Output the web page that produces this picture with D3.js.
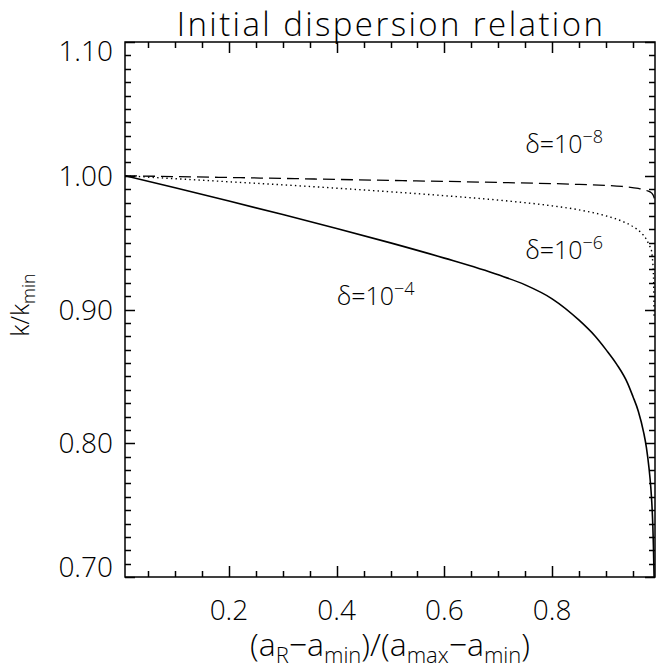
<!DOCTYPE html>
<html><head><meta charset="utf-8">
<script src="https://cdn.jsdelivr.net/npm/d3@7"></script>
<style>
body{margin:0;background:#fff}
svg text{font-family:"Open Sans","DejaVu Sans",sans-serif;font-weight:300;fill:#000}
</style></head><body>
<svg id="c" width="658" height="668"></svg>
<script>
// ---- data ----
const xSolid=[0.007,0.1,0.2,0.3,0.4,0.5,0.6,0.7,0.75,0.8,0.85,0.88,0.9,0.92,0.94,0.95,0.96,0.97,0.975,0.98,0.983,0.985,0.987,0.988,0.989,0.9893];
const ySolid=[1.000,0.991,0.9811,0.971,0.9606,0.9498,0.9384,0.9259,0.9184,0.908,0.892,0.880,0.870,0.859,0.845,0.835,0.824,0.808,0.797,0.781,0.768,0.756,0.738,0.724,0.706,0.700];
const xDotted=[0.007,0.1,0.2,0.3,0.4,0.5,0.6,0.7,0.8,0.85,0.9,0.93,0.95,0.965,0.975,0.981,0.984,0.986,0.9875,0.9885,0.989,0.9893];
const yDotted=[1.000,0.9978,0.9955,0.9932,0.9907,0.988,0.9851,0.9818,0.9775,0.9745,0.970,0.966,0.962,0.9575,0.9525,0.9475,0.945,0.939,0.931,0.920,0.906,0.893];
const xDashed=[0.007,0.3,0.5,0.7,0.85,0.93,0.96,0.975,0.985,0.989,0.991];
const yDashed=[1.000,0.998,0.9965,0.995,0.9935,0.992,0.9905,0.989,0.987,0.984,0.980];
const seriesLabels=["\u03b4=10","\u03b4=10","\u03b4=10"];
const seriesExp=["\u22124","\u22126","\u22128"];
const xMajor=[0.2,0.4,0.6,0.8];
const xTickLabels=["0.2","0.4","0.6","0.8"];
const xMinor=[0.05,0.1,0.15,0.25,0.3,0.35,0.45,0.5,0.55,0.65,0.7,0.75,0.85,0.9,0.95];
const yMajor=[0.7,0.8,0.9,1.0,1.1];
const yTickLabels=["0.70","0.80","0.90","1.00","1.10"];
const yMinor=[0.71,0.72,0.73,0.74,0.75,0.76,0.77,0.78,0.79,0.81,0.82,0.83,0.84,0.85,0.86,0.87,0.88,0.89,
              0.91,0.92,0.93,0.94,0.95,0.96,0.97,0.98,0.99,1.01,1.02,1.03,1.04,1.05,1.06,1.07,1.08,1.09];
const titleText="Initial dispersion relation";

// ---- layout ----
const L=125,R=655,T=42,B=577;
const x=d3.scaleLinear().domain([0.007,0.991]).range([L,R]);
const y=d3.scaleLinear().domain([0.70,1.10]).range([B,T]);
const svg=d3.select("#c");

svg.append("defs").append("clipPath").attr("id","pc")
  .append("rect").attr("x",L).attr("y",T).attr("width",R-L).attr("height",B-T);

// box
svg.append("rect").attr("x",L).attr("y",T).attr("width",R-L).attr("height",B-T).attr("fill","none").attr("stroke","#000").attr("stroke-width",1.5);

// ticks (inward, on all four sides)
const tg=svg.append("g");
function tick(x1,y1,x2,y2){tg.append("line").attr("x1",x1).attr("y1",y1).attr("x2",x2).attr("y2",y2)
  .attr("stroke","#000").attr("stroke-width",1.5);}
function xt(vals,len){vals.forEach(v=>{const px=Math.round(x(v))+0.5;
  tick(px,B,px,B-len); tick(px,T,px,T+len);});}
function yt(vals,len){vals.forEach(v=>{const py=Math.round(y(v))+0.5;
  tick(L,py,L+len,py); tick(R,py,R-len,py);});}
xt(xMinor,6); xt(xMajor,11); yt(yMinor,6); yt(yMajor,10);

// tick labels
svg.append("g").selectAll("text").data(xMajor).join("text")
  .attr("x",d=>x(d)).attr("y",620).attr("text-anchor","middle").attr("font-size",28)
  .text((d,i)=>xTickLabels[i]);
svg.append("g").selectAll("text").data(yMajor).join("text")
  .attr("x",113).attr("y",d=>Math.min(B,Math.max(T+19,y(d)+10)))
  .attr("text-anchor","end").attr("font-size",28)
  .text((d,i)=>yTickLabels[i]);

// curves
const line=d3.line().x(d=>x(d[0])).y(d=>y(d[1])).curve(d3.curveMonotoneX);
const pg=svg.append("g").attr("clip-path","url(#pc)");
pg.append("path").attr("d",line(d3.zip(xSolid,ySolid))).attr("fill","none").attr("stroke","#000").attr("stroke-width",1.6);
pg.append("path").attr("d",line(d3.zip(xDotted,yDotted))).attr("fill","none").attr("stroke","#000").attr("stroke-width",1.4).attr("stroke-dasharray","1.4,3.2");
pg.append("path").attr("d",line(d3.zip(xDashed,yDashed))).attr("fill","none").attr("stroke","#000").attr("stroke-width",1.3).attr("stroke-dasharray","12,6");

// annotations
const annPos=[[0.40,0.9035],[0.75,0.9375],[0.75,1.017]];
annPos.forEach((p,i)=>{
  const t=svg.append("text").attr("x",x(p[0])).attr("y",y(p[1])).attr("font-size",25);
  t.append("tspan").text(seriesLabels[i]);
  t.append("tspan").attr("dy",-10).attr("font-size",18).text(seriesExp[i]);
});

// title
svg.append("text").attr("x",391).attr("y",36).attr("text-anchor","middle").attr("font-size",33)
  .attr("letter-spacing",2.4).text(titleText);

// x title
const xtt=svg.append("text").attr("x",390).attr("y",656).attr("text-anchor","middle").attr("font-size",32);
const parts=[["(a",0],["R",1],["\u2212a",0],["min",1],[")/(a",0],["max",1],["\u2212a",0],["min",1],[")",0]];
let prev=0;
parts.forEach(([s,sub])=>{const dy=(sub?7:0)-prev;prev=sub?7:0;
  xtt.append("tspan").attr("dy",dy).attr("font-size",sub?22:32).text(s);});

// y title
const ytt=svg.append("text").attr("transform","translate(29,305) rotate(-90)").attr("text-anchor","middle").attr("font-size",25);
ytt.append("tspan").text("k/k");
ytt.append("tspan").attr("dy",6).attr("font-size",18).text("min");
</script></body></html>
